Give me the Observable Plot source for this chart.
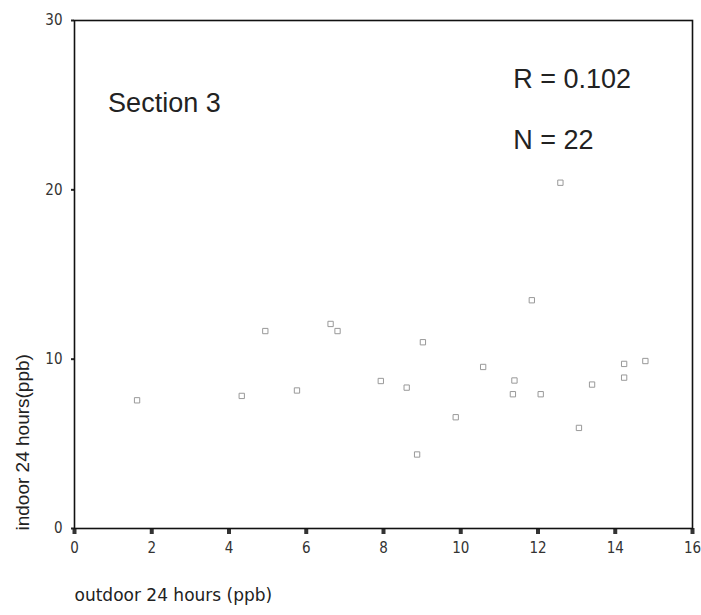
<!DOCTYPE html>
<html><head><meta charset="utf-8">
<script src="https://cdn.jsdelivr.net/npm/d3@7"></script>
<script src="https://cdn.jsdelivr.net/npm/@observablehq/plot@0.6"></script>
<style>
html,body{margin:0;padding:0;background:#fff;}
</style></head><body><div id="chart"></div>
<script>
// outdoor vs indoor 24-hour concentrations (ppb), Section 3
const outdoor = [1.62, 4.33, 4.94, 5.76, 6.63, 6.81, 12.58, 11.84, 9.02, 10.58, 7.93,
                 8.60, 9.87, 8.87, 11.39, 11.35, 12.07, 13.40, 13.06, 14.23, 14.23, 14.78];
const indoor  = [7.57, 7.83, 11.66, 8.15, 12.08, 11.66, 20.42, 13.48, 11.0, 9.54, 8.71,
                 8.32, 6.57, 4.37, 8.74, 7.93, 7.93, 8.50, 5.94, 9.72, 8.91, 9.89];
const xTicks = [0, 2, 4, 6, 8, 10, 12, 14, 16];
const yTicks = [0, 10, 20, 30];
const xLabel = "outdoor 24 hours (ppb)";
const yLabel = "indoor 24 hours(ppb)";
const noteText = ["Section 3", "R = 0.102", "N = 22"];
const noteX = [0.87, 11.36, 11.36];
const noteY = [25.1, 26.5, 22.9];

const points = outdoor.map((x, i) => ({x, y: indoor[i]}));
const notes = noteText.map((t, i) => ({t, x: noteX[i], y: noteY[i]}));

const tickFont = "'DejaVu Sans Condensed', 'DejaVu Sans', sans-serif";

const chart = Plot.plot({
  width: 701,
  height: 615,
  marginLeft: 74,
  marginRight: 9,
  marginTop: 20,
  marginBottom: 87,
  style: {background: "#fff", color: "#222"},
  x: {domain: [0, 16]},
  y: {domain: [0, 30]},
  marks: [
    Plot.axisX({ticks: xTicks, tickSize: 6, strokeWidth: 4, tickPadding: 8, label: null, stroke: "#333",
                fontSize: 15, fontFamily: tickFont, fill: "#333"}),
    Plot.axisY({ticks: yTicks, tickSize: 3, strokeWidth: 2, tickPadding: 9, label: null,
                fontSize: 15, fontFamily: tickFont, fill: "#333"}),
    Plot.text([xLabel], {frameAnchor: "bottom-left", dy: 72, textAnchor: "start", lineAnchor: "bottom",
                         fontSize: 17, fontFamily: "'DejaVu Sans', sans-serif", fill: "#222"}),
    Plot.text([yLabel], {frameAnchor: "bottom-left", dx: -52, dy: 2, rotate: -90, textAnchor: "start", lineAnchor: "middle",
                         fontSize: 19, fontFamily: "'Liberation Sans', Arial, sans-serif", fill: "#222"}),
    Plot.frame({stroke: "#111", strokeWidth: 1.6}),
    Plot.dot(points, {x: "x", y: "y", symbol: "square", r: 3, stroke: "#999", strokeWidth: 1, fill: "white"}),
    Plot.text(notes, {x: "x", y: "y", text: "t", textAnchor: "start", lineAnchor: "middle", fontSize: 27,
                      fontFamily: "'Liberation Sans', Arial, sans-serif", fill: "#222"})
  ]
});
document.getElementById("chart").appendChild(chart);
</script>
</body></html>
